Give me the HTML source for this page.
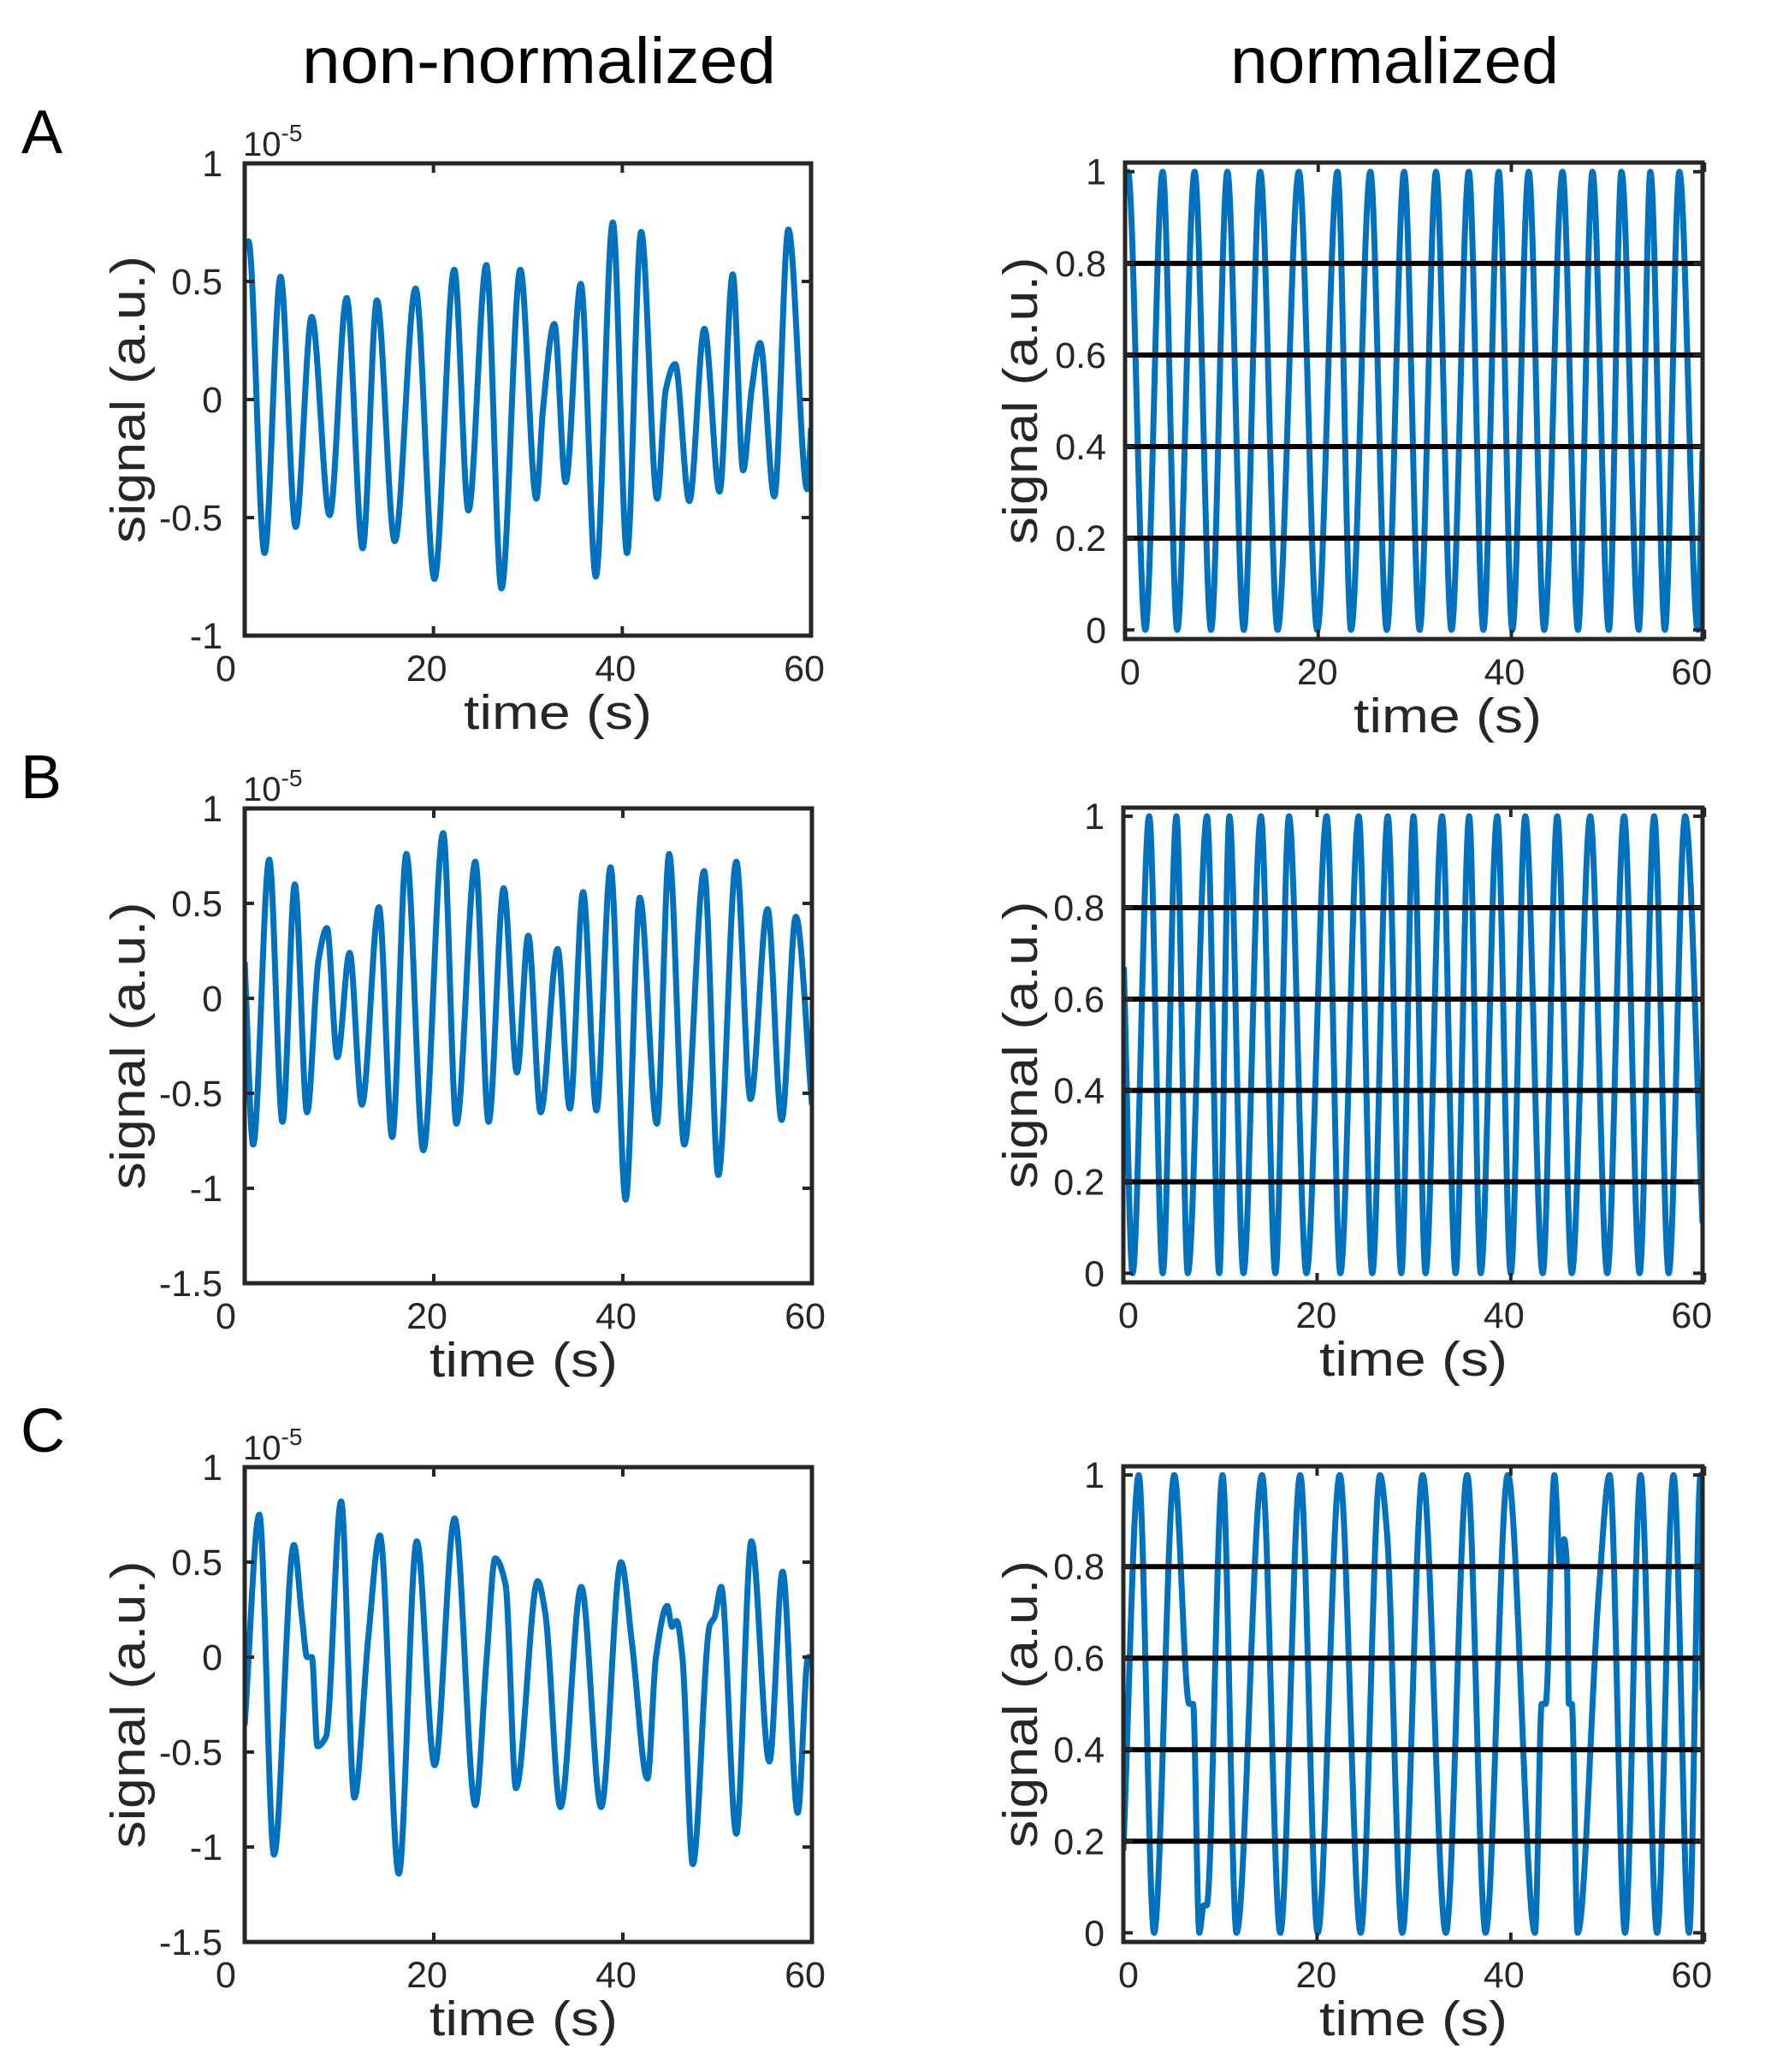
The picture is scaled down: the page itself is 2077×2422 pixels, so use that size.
<!DOCTYPE html>
<html><head><meta charset="utf-8"><title>Normalized vs non-normalized signals</title>
<style>
html,body{margin:0;padding:0;background:#fff;}
svg{display:block;font-family:"Liberation Sans",Arial,sans-serif;}
</style></head>
<body>
<svg id="fig" width="2077" height="2422" viewBox="0 0 2077 2422" xmlns="http://www.w3.org/2000/svg">
<rect x="0" y="0" width="2077" height="2422" fill="#fff"/>
<text x="353" y="97" font-size="76" textLength="554" lengthAdjust="spacingAndGlyphs" fill="#000">non-normalized</text>
<text x="1438" y="97" font-size="76" textLength="384" lengthAdjust="spacingAndGlyphs" fill="#000">normalized</text>
<text x="25" y="179" font-size="72" fill="#000">A</text>
<text x="24" y="933" font-size="72" fill="#000">B</text>
<text x="24" y="1697" font-size="72" fill="#000">C</text>
</svg>
<script>
// ---------- data (time in s, signal in 1e-5 a.u. or normalized) ----------
const tA1 = [0,0.4,2.1,3.8,5.4,7.1,9.0,10.8,12.5,14.0,15.9,18.1,20.1,22.2,23.7,25.6,27.2,29.2,30.9,31.6,32.8,34.0,35.6,37.2,39.0,40.5,42.0,43.7,44.6,45.6,47.1,48.7,50.3,51.7,52.8,53.7,54.6,56.1,57.6,59.6,60];
const vA1 = [0.64,0.67,-0.65,0.52,-0.54,0.35,-0.49,0.43,-0.63,0.42,-0.60,0.47,-0.76,0.55,-0.47,0.57,-0.80,0.55,-0.42,-0.04,0.32,-0.35,0.49,-0.75,0.75,-0.65,0.71,-0.42,0.04,0.15,-0.43,0.30,-0.39,0.53,-0.30,0.04,0.24,-0.41,0.72,-0.38,-0.12];

const tA2 = [0,0.3,2.1,3.9,5.4,7.2,8.9,10.6,12.3,14.0,15.8,18.0,19.9,22.0,23.4,25.4,27.1,28.9,30.5,32.2,33.8,35.6,37.1,38.7,40.1,41.8,43.4,45.3,46.9,48.4,50.1,51.4,53.2,54.4,55.9,57.4,59.3,59.8];
const vA2 = [0.97,1,0,1,0,1,0,1,0,1,0,1,0,1,0,1,0,1,0,1,0,1,0,1,0,1,0,1,0,1,0,1,0,1,0,1,0,0.39];

const tB1 = [0,0.9,2.6,4.0,5.3,6.6,7.8,8.7,9.8,11.1,12.4,14.2,15.6,17.1,18.9,21.0,22.4,24.4,25.8,27.4,28.8,30.0,31.3,33.1,34.4,35.8,37.2,38.7,40.3,41.8,43.6,44.9,46.5,48.6,50.1,52.0,53.5,55.3,56.8,58.3,60];
const vB1 = [0.19,-0.77,0.73,-0.65,0.60,-0.60,0.20,0.37,-0.31,0.24,-0.56,0.48,-0.73,0.76,-0.80,0.87,-0.66,0.72,-0.65,0.58,-0.39,0.33,-0.60,0.26,-0.58,0.56,-0.59,0.69,-1.06,0.53,-0.66,0.76,-0.77,0.67,-0.93,0.72,-0.53,0.47,-0.64,0.43,-0.56];

const tB2 = [0.05,0.95,2.67,4.07,5.48,6.65,8.64,9.9,10.95,12.4,14.2,15.7,17.1,18.9,21.0,22.4,24.3,25.7,27.3,28.7,29.95,31.2,32.9,34.3,35.7,36.9,38.6,40.0,41.5,43.3,44.8,46.3,48.2,49.96,51.7,53.3,54.8,56.3,58.0,59.8];
const vB2 = [0.67,0,1,0,1,0,1,0,1,0,1,0,1,0,1,0,1,0,1,0,1,0,1,0,1,0,1,0,1,0,1,0,1,0,1,0,1,0,1,0.11];

const tC1 = [0,1.55,3.1,5.2,6.1,6.6,7.1,7.7,8.6,10.2,11.6,13.1,14.3,16.3,18.2,20.1,22.2,24.4,25.6,26.5,27.6,28.7,31.0,31.8,33.4,35.6,37.7,39.8,41.0,42.6,43.5,44.7,45.2,45.7,46.3,47.4,49.2,49.7,50.4,52.0,53.6,55.5,56.9,58.5,59.6,60];
const vC1 = [-0.36,0.75,-1.04,0.59,0.19,0,0,-0.47,-0.42,0.82,-0.74,0.12,0.64,-1.14,0.61,-0.57,0.73,-0.78,0,0.52,0.38,-0.69,0.40,0.23,-0.79,0.37,-0.79,0.50,0.06,-0.64,0,0.27,0.16,0.19,0,-1.09,0.17,0.21,0.37,-0.93,0.61,-0.55,0.45,-0.82,0,0];

const tC2 = [0,1.59,3.17,5.26,6.8,7.2,7.84,8.3,8.6,10.24,11.69,14.32,16.2,18.26,20.07,22.34,24.5,26.5,27.2,28.8,30.9,33.3,35.5,37.4,39.7,42.5,43.2,43.6,44.5,45.1,45.5,45.8,46.0,46.3,46.9,49.1,50.2,51.8,53.4,55.1,56.8,58.4,59.6,59.8];
const vC2 = [0.18,1,0,1,0.5,0.5,0,0.06,0.06,1,0,1,0,1,0,1,0,1,0.88,0,1,0,1,0,1,0,0.5,0.5,1,0.8,0.86,0.8,0.5,0.5,0,0.75,1,0,1,0,1,0,1,0.53];

const leftYTicks = [-1.5,-1,-0.5,0,0.5,1];
const leftYTickLabelsA = ["-1","-0.5","0","0.5","1"];
const leftYTicksA = [-1,-0.5,0,0.5,1];
const leftYTickLabelsBC = ["-1.5","-1","-0.5","0","0.5","1"];
const rightYTicks = [0,0.2,0.4,0.6,0.8,1];
const rightYTickLabels = ["0","0.2","0.4","0.6","0.8","1"];
const thresholds = [0.2,0.4,0.6,0.8];
const xTicks = [0,20,40,60];
const xTickLabels = ["0","20","40","60"];

// ---------- layout ----------
const NS = "http://www.w3.org/2000/svg";
const svg = document.getElementById('fig');
function mk(tag, attrs, parent){
  const e = document.createElementNS(NS, tag);
  for (const k in attrs) e.setAttribute(k, attrs[k]);
  (parent||svg).appendChild(e);
  return e;
}
function monoPath(xs, ys){
  const n = xs.length;
  const d = [], m = new Array(n);
  for (let i=0;i<n-1;i++) d.push((ys[i+1]-ys[i])/(xs[i+1]-xs[i]));
  m[0]=d[0]; m[n-1]=d[n-2];
  for (let i=1;i<n-1;i++){
    if (d[i-1]*d[i] <= 0) m[i]=0;
    else { const w1=2*(xs[i+1]-xs[i])+(xs[i]-xs[i-1]), w2=(xs[i+1]-xs[i])+2*(xs[i]-xs[i-1]);
      m[i]=(w1+w2)/(w1/d[i-1]+w2/d[i]); }
  }
  let p = 'M'+xs[0].toFixed(1)+','+ys[0].toFixed(1);
  for (let i=0;i<n-1;i++){
    const h = xs[i+1]-xs[i];
    p += ' C'+(xs[i]+h/3).toFixed(1)+','+(ys[i]+m[i]*h/3).toFixed(1)+' '+(xs[i+1]-h/3).toFixed(1)+','+(ys[i+1]-m[i+1]*h/3).toFixed(1)+' '+xs[i+1].toFixed(1)+','+ys[i+1].toFixed(1);
  }
  return p;
}

const panels = [
 {id:'a-left', L:286,R:948,T:191,B:743,x0:0,x1:60,y0:-1,y1:1,t:tA1,v:vA1,yt:leftYTicksA,yl:leftYTickLabelsA,norm:false,xlab:652,exp:true},
 {id:'a-right',L:1315,R:1990,T:190,B:747,x0:0,x1:59.8,y0:-0.02,y1:1.02,t:tA2,v:vA2,yt:rightYTicks,yl:rightYTickLabels,norm:true,xlab:1692},
 {id:'b-left', L:286,R:949,T:945,B:1500,x0:0,x1:60,y0:-1.5,y1:1,t:tB1,v:vB1,yt:leftYTicks,yl:leftYTickLabelsBC,norm:false,xlab:612,exp:true},
 {id:'b-right',L:1313,R:1990,T:944,B:1499,x0:0,x1:59.8,y0:-0.02,y1:1.019,t:tB2,v:vB2,yt:rightYTicks,yl:rightYTickLabels,norm:true,xlab:1652},
 {id:'c-left', L:286,R:949,T:1715,B:2270,x0:0,x1:60,y0:-1.5,y1:1,t:tC1,v:vC1,yt:leftYTicks,yl:leftYTickLabelsBC,norm:false,xlab:612,exp:true},
 {id:'c-right',L:1313,R:1990,T:1714,B:2270,x0:0,x1:59.8,y0:-0.02,y1:1.019,t:tC2,v:vC2,yt:rightYTicks,yl:rightYTickLabels,norm:true,xlab:1652}
];
const AX = '#262626';
panels.forEach(function(p){
  const sx = function(t){ return p.L + (t-p.x0)/(p.x1-p.x0)*(p.R-p.L); };
  const sy = function(v){ return p.B - (v-p.y0)/(p.y1-p.y0)*(p.B-p.T); };
  const g = mk('g', {});
  
  
  const cp = mk('clipPath', {id:'clip-'+p.id}, g);
  mk('rect', {x:p.L, y:p.T, width:p.R-p.L, height:p.B-p.T}, cp);
  const xs = p.t.map(sx), ys = p.v.map(sy);
  const line = mk('path', {d:monoPath(xs, ys), fill:'none', stroke:'#0072BD', 'stroke-width':7, 'stroke-linejoin':'round', 'clip-path':'url(#clip-'+p.id+')'}, g);
  
  
  if (p.norm){
    thresholds.forEach(function(th){
      const hl = mk('line', {x1:p.L+2, x2:p.R-2, y1:sy(th), y2:sy(th), stroke:'#000', 'stroke-width':6}, g);
      
      
    });
  }
  p.yt.forEach(function(v, i){
    const y = sy(v);
    mk('line', {x1:p.L, x2:p.L+11, y1:y, y2:y, stroke:AX, 'stroke-width':4}, g);
    mk('line', {x1:p.R, x2:p.R-11, y1:y, y2:y, stroke:AX, 'stroke-width':4}, g);
    const lab = mk('text', {x:p.L-(p.norm?22:26), y:y+15, 'font-size':43, 'text-anchor':'end', fill:AX}, g);
    lab.textContent = p.yl[i];
    
    
  });
  xTicks.forEach(function(t, i){
    const x = sx(t);
    mk('line', {x1:x, x2:x, y1:p.B, y2:p.B-11, stroke:AX, 'stroke-width':4}, g);
    mk('line', {x1:x, x2:x, y1:p.T, y2:p.T+11, stroke:AX, 'stroke-width':4}, g);
    let off = p.norm ? (6 - t*0.35) : -8;
    if (!p.norm && t===0) off = -22;
    const lab = mk('text', {x:x+off, y:p.B+53, 'font-size':43, 'text-anchor':'middle', fill:AX}, g);
    lab.textContent = xTickLabels[i];
    
    
  });
  const box = mk('rect', {x:p.L, y:p.T, width:p.R-p.L, height:p.B-p.T, fill:'none', stroke:AX, 'stroke-width':5}, g);
  
  
  const xt = mk('text', {x:p.xlab, y:p.B+109, 'font-size':57, 'text-anchor':'middle', textLength:220, lengthAdjust:'spacingAndGlyphs', fill:AX}, g);
  xt.textContent = 'time (s)';
  
  
  const cy = (p.T+p.B)/2;
  const bx = p.norm ? 1212 : 169;
  const yt = mk('text', {x:bx, y:cy, 'font-size':57, 'text-anchor':'middle', textLength:336, lengthAdjust:'spacingAndGlyphs', fill:AX, transform:'rotate(-90 '+bx+' '+cy+')'}, g);
  yt.textContent = 'signal (a.u.)';
  
  
  if (p.exp){
    const ex = mk('text', {x:p.L-2, y:p.T-9, 'font-size':40, fill:AX}, g);
    ex.textContent = '10';
    const sup = mk('tspan', {'font-size':28, dy:-17}, ex);
    sup.textContent = '-5';
    
    
  }
});
</script>
</body></html>
